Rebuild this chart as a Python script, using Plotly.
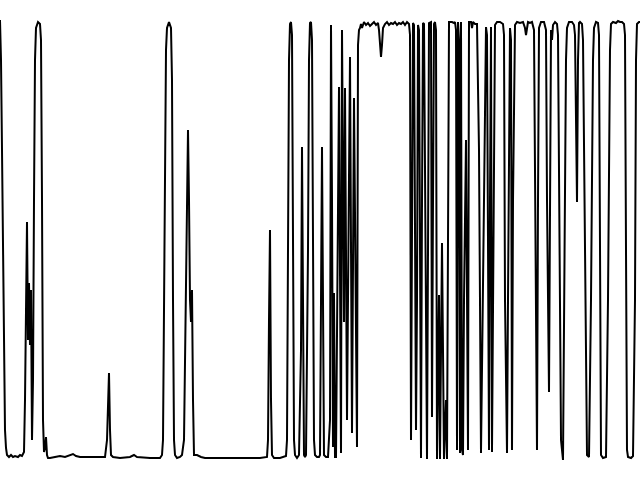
import plotly.graph_objects as go

# Sample position (t) and level, segment by segment
t_a = [0,1,2,3,4,5,6,7,9,11,13,15,18,20,22,24,25,26,27,28,29,30,31,32,33,34,35,36,38,40,41,42,43,44,45,46,47,48,50]
v_a = [438,398,308,198,88,28,10,3,1,3,1,2,1,3,2,6,58,158,236,118,175,113,168,18,78,258,398,430,436,434,418,258,38,6,10,21,3,0,0]

t_b = [55,60,65,70,73,76,80,90,100,105,107,109,110,111,113,120,130,134,137,150,160,162]
v_b = [1,2,1,3,4,2,1,1,1,1,18,85,28,3,1,0,1,3,1,0,0,3]

t_c = [163,164,165,166,167,169,171,172,173,174,175,177,180,182,184,186,188,189,190,191,192,193,194,197,199,201,205]
v_c = [18,158,308,408,430,436,430,378,158,18,3,0,1,3,18,158,328,258,158,136,168,58,3,3,2,1,0]

t_d = [220,240,260,267,268,269,270,271,272,274,280,286,287,288,289,290,291,292,293,294,295,297,299,301,302,303,304,305,306,308,309,310,311,312,313,314,315,317,319,320]
v_d = [0,0,0,1,18,138,228,58,3,0,0,2,18,208,398,434,436,423,208,18,3,0,3,108,311,108,3,1,3,208,398,435,436,418,208,18,3,1,1,3]

t_e = [322,323,324,326,328,330,331,332,333,334,335,336,339,341,342,344,345,347,350,352,354,357,358,359]
v_e = [311,158,3,1,1,38,433,258,11,165,1,1,371,5,428,136,370,38,401,25,360,11,413,428]

t_f = [360,361,362,364,366,368,370,372,374,376,378,379,380,381,382,383,385,387,389,391,393,395,397,399,401,403,405,407,409,410]
v_f = [430,434,430,436,433,435,432,434,436,433,435,428,408,401,413,430,434,436,433,435,434,436,433,435,434,436,433,436,434,423]

t_g = [411,412,413,414,415,416,417,418,419,420,421,422,423,424,425,427,428,429,431,432,433,434,435,436,437,439,440,442,444,446,447,448,449,452,454,455,456,457,458,459,460,461,462,463,464,466,467,468,469,471,472,473,475,477,479,481]
v_g = [18,258,435,433,258,28,158,433,428,208,0,258,435,434,258,-1,208,435,436,41,258,434,436,428,-1,163,-1,215,-1,58,-1,258,436,436,435,436,428,8,436,418,5,436,8,3,158,318,158,8,436,436,430,436,434,434,308,5]

t_h = [484,486,487,488,489,490,491,492,494,495,497,500,503,504,505,507,508,510,511,512,513,515,517,520,523,525,526,527,528,530,532,534,535,537,538,539,541,544,546,547,549,550,551,552,553,555,557,558,559,561,563,564,566,567,569,572,574,575,576,577,578,579,580,582,583,585,587,589,591,593,594,596,598,599,600,601,603,606,608,610,611,613,616,618,620,622,624,625,626,627,628,631,633,635,636,637,639,640]
v_h = [258,431,423,158,8,258,431,6,258,433,436,436,434,423,158,5,158,430,418,8,258,433,436,435,436,430,423,430,436,435,436,428,258,8,258,430,436,436,428,258,66,258,428,418,433,436,434,423,258,18,-2,158,398,430,436,436,433,423,308,256,398,435,436,434,418,208,3,1,158,398,430,436,435,423,208,3,0,1,158,408,434,436,435,437,436,436,434,423,208,8,1,0,2,158,398,434,436,436]

t = t_a + t_b + t_c + t_d + t_e + t_f + t_g + t_h
v = v_a + v_b + v_c + v_d + v_e + v_f + v_g + v_h

fig = go.Figure(go.Scatter(x=t, y=v, mode="lines", line=dict(color="black", width=2)))
fig.update_layout(
    width=640, height=480,
    margin=dict(l=0, r=0, t=0, b=0),
    paper_bgcolor="white", plot_bgcolor="white",
    showlegend=False,
    xaxis=dict(range=[0, 640], visible=False),
    yaxis=dict(range=[-22, 458], visible=False),
)
fig.write_html("out.html")
